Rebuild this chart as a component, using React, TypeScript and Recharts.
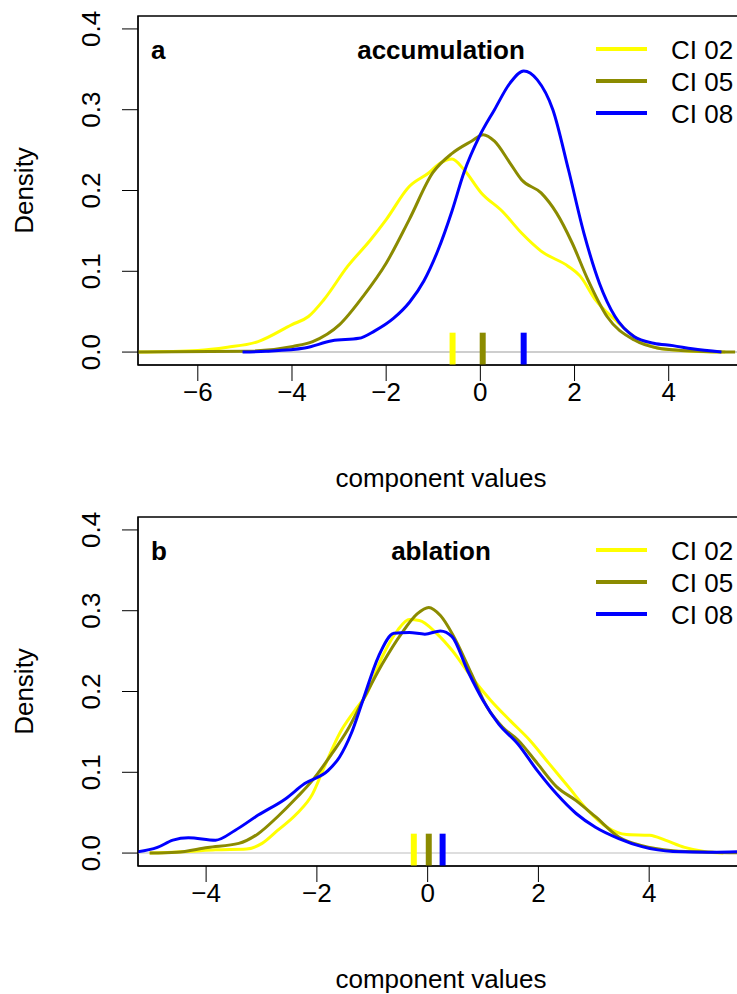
import React from 'react';
import { LineChart, Line, XAxis, YAxis, ReferenceLine, ReferenceArea } from 'recharts';

const FONT = '"Liberation Sans", Arial, Helvetica, sans-serif';
const FS = 26;

const seriesNames = ['CI 02', 'CI 05', 'CI 08'];
const seriesColors = ['#ffff00', '#8b8b00', '#0000ff'];

const xTicksA = [-6, -4, -2, 0, 2, 4];
const xTicksB = [-4, -2, 0, 2, 4];
const yTicks = [0, 0.1, 0.2, 0.3, 0.4];

// accumulation: [component value, density]
const accCI02: [number, number][] = [
  [-7.3, 0], [-6, 0.002], [-5.37, 0.006], [-4.72, 0.013], [-4, 0.034], [-3.65, 0.044],
  [-3.32, 0.065], [-2.82, 0.106], [-2.33, 0.139], [-2, 0.164], [-1.51, 0.205], [-1.09, 0.222],
  [-0.85, 0.234], [-0.6, 0.239], [-0.35, 0.226], [0.02, 0.197], [0.47, 0.174], [0.88, 0.147],
  [1.29, 0.125], [1.87, 0.106], [2.12, 0.094], [2.44, 0.065], [2.86, 0.04], [3.27, 0.019],
  [3.76, 0.005], [4.5, 0.001], [5.2, 0],
];
const accCI05: [number, number][] = [
  [-7.3, 0], [-4.96, 0.001], [-3.98, 0.007], [-3.56, 0.013], [-2.99, 0.034], [-2.49, 0.069],
  [-2, 0.11], [-1.51, 0.164], [-1.01, 0.222], [-0.6, 0.246], [-0.19, 0.261], [0.06, 0.269],
  [0.3, 0.261], [0.63, 0.234], [0.88, 0.213], [1.29, 0.197], [1.62, 0.172], [1.95, 0.135],
  [2.28, 0.09], [2.69, 0.044], [3.27, 0.015], [3.76, 0.005], [4.26, 0.002], [5.41, 0],
];
const accCI08: [number, number][] = [
  [-5.05, 0], [-4.55, 0.001], [-3.73, 0.005], [-3.15, 0.014], [-2.58, 0.017], [-2.25, 0.026],
  [-1.84, 0.042], [-1.5, 0.062], [-1.2, 0.088], [-0.9, 0.126], [-0.6, 0.175], [-0.35, 0.222],
  [-0.02, 0.267], [0.3, 0.3], [0.63, 0.333], [0.92, 0.348], [1.21, 0.337], [1.54, 0.3],
  [1.87, 0.226], [2.2, 0.147], [2.53, 0.085], [2.86, 0.044], [3.27, 0.019], [3.68, 0.011],
  [4.09, 0.008], [4.5, 0.004], [5.12, 0],
];

// ablation: [component value, density]
const ablCI02: [number, number][] = [
  [-5.02, 0], [-4.32, 0.002], [-3.83, 0.004], [-3.27, 0.005], [-2.99, 0.012], [-2.71, 0.028],
  [-2.36, 0.049], [-2.08, 0.073], [-1.87, 0.106], [-1.59, 0.148], [-1.31, 0.177], [-1.1, 0.197],
  [-0.82, 0.243], [-0.54, 0.276], [-0.33, 0.289], [-0.15, 0.288], [0.16, 0.272], [0.44, 0.251],
  [0.79, 0.218], [1.14, 0.189], [1.49, 0.164], [1.84, 0.14], [2.19, 0.111], [2.54, 0.082],
  [2.89, 0.053], [3.24, 0.032], [3.59, 0.023], [4.01, 0.022], [4.29, 0.016], [4.64, 0.007],
  [4.99, 0.002], [5.34, 0],
];
const ablCI05: [number, number][] = [
  [-5.02, 0], [-4.53, 0.001], [-3.97, 0.007], [-3.41, 0.012], [-3.06, 0.024], [-2.71, 0.045],
  [-2.36, 0.069], [-2.08, 0.09], [-1.73, 0.123], [-1.45, 0.152], [-1.17, 0.189], [-0.82, 0.234],
  [-0.47, 0.272], [-0.19, 0.296], [0.02, 0.304], [0.23, 0.294], [0.51, 0.263], [0.79, 0.222],
  [1.07, 0.181], [1.35, 0.156], [1.63, 0.14], [1.98, 0.111], [2.33, 0.082], [2.68, 0.065],
  [3.03, 0.045], [3.45, 0.02], [3.87, 0.009], [4.43, 0.003], [5.13, 0.001], [5.8, 0],
];
const ablCI08: [number, number][] = [
  [-5.3, 0.001], [-4.88, 0.007], [-4.6, 0.016], [-4.32, 0.019], [-3.83, 0.016], [-3.48, 0.028],
  [-3.06, 0.047], [-2.57, 0.067], [-2.22, 0.086], [-1.8, 0.102], [-1.59, 0.119], [-1.38, 0.148],
  [-1.17, 0.189], [-0.89, 0.243], [-0.61, 0.272], [-0.33, 0.273], [-0.05, 0.271], [0.23, 0.275],
  [0.44, 0.268], [0.72, 0.226], [1, 0.189], [1.28, 0.16], [1.63, 0.135], [1.98, 0.102],
  [2.33, 0.073], [2.68, 0.049], [3.03, 0.032], [3.45, 0.018], [3.87, 0.008], [4.43, 0.002],
  [5.13, 0.001], [5.8, 0.002],
];

const accMeans = [-0.59, 0.05, 0.92];
const ablMeans = [-0.25, 0.02, 0.27];

const toPoints = (s: [number, number][]) => s.map(([x, y]) => ({ x, y }));

const fmtX = (v: number) => (v < 0 ? '\u2212' + Math.abs(v) : String(v));

const YTick = (props: any) => {
  const { x, y, payload } = props;
  const bx = x - 20;
  return (
    <text x={bx} y={y} transform={`rotate(-90 ${bx} ${y})`} textAnchor="middle"
      fontFamily={FONT} fontSize={FS} fill="#000">
      {payload.value.toFixed(1)}
    </text>
  );
};

const XTick = (props: any) => {
  const { x, y, payload } = props;
  return (
    <text x={x} y={y + 18} textAnchor="middle" fontFamily={FONT} fontSize={FS} fill="#000">
      {fmtX(payload.value)}
    </text>
  );
};

const Y_DOMAIN: [number, number] = [-0.016, 0.416];

interface PanelProps {
  top: number;
  letter: string;
  title: string;
  series: [number, number][][];
  means: number[];
  xDomain: [number, number];
  xTicks: number[];
  zeroColor: string;
}

function Panel({ top, letter, title, series, means, xDomain, xTicks, zeroColor }: PanelProps) {
  return (
    <div style={{ position: 'absolute', left: 0, top, width: 760, height: 497 }}>
      <LineChart width={760} height={497} margin={{ top: 16, right: 15, left: 78, bottom: 92 }}>
        <XAxis type="number" dataKey="x" domain={xDomain} allowDataOverflow
          ticks={xTicks} tickSize={16} height={40} tick={<XTick />}
          axisLine={{ stroke: '#000', strokeWidth: 1 }} tickLine={{ stroke: '#000' }} />
        <YAxis type="number" domain={Y_DOMAIN} allowDataOverflow ticks={yTicks}
          tickSize={16} width={60} tick={<YTick />}
          axisLine={{ stroke: '#000', strokeWidth: 1 }} tickLine={{ stroke: '#000' }} />
        <ReferenceArea x1={xDomain[0]} x2={xDomain[1]} y1={Y_DOMAIN[0]} y2={Y_DOMAIN[1]}
          fill="none" fillOpacity={0} stroke="#000" strokeOpacity={1} strokeWidth={1.5}
          ifOverflow="visible" />
        <ReferenceLine y={0} stroke={zeroColor} strokeWidth={1.5} />
        {series.map((s, i) => (
          <Line key={seriesNames[i]} data={toPoints(s)} dataKey="y" name={seriesNames[i]}
            type="monotone" stroke={seriesColors[i]} strokeWidth={3} dot={false}
            isAnimationActive={false} />
        ))}
        {means.map((m, i) => (
          <ReferenceLine key={'m' + i} segment={[{ x: m, y: Y_DOMAIN[0] }, { x: m, y: 0.024 }]}
            stroke={seriesColors[i]} strokeWidth={6} />
        ))}
      </LineChart>
      <svg width={760} height={497} style={{ position: 'absolute', left: 0, top: 0, pointerEvents: 'none' }}>
        <text x={33} y={190.5} transform="rotate(-90 33 190.5)" textAnchor="middle"
          fontFamily={FONT} fontSize={FS}>Density</text>
        <text x={441} y={487} textAnchor="middle" fontFamily={FONT} fontSize={FS}>component values</text>
        <text x={151} y={59} fontFamily={FONT} fontSize={FS} fontWeight="bold">{letter}</text>
        <text x={441} y={59} textAnchor="middle" fontFamily={FONT} fontSize={FS} fontWeight="bold">{title}</text>
        {seriesNames.map((n, i) => (
          <g key={n}>
            <line x1={596} x2={647} y1={49 + i * 32} y2={49 + i * 32} stroke={seriesColors[i]} strokeWidth={4} />
            <text x={671} y={59 + i * 32} fontFamily={FONT} fontSize={FS}>{n}</text>
          </g>
        ))}
      </svg>
    </div>
  );
}

export default function App() {
  return (
    <div style={{ position: 'absolute', left: 0, top: 0, width: 737, height: 994, overflow: 'hidden', background: '#fff' }}>
      <Panel top={0} letter="a" title="accumulation" series={[accCI02, accCI05, accCI08]}
        means={accMeans} xDomain={[-7.27, 5.62]} xTicks={xTicksA} zeroColor="#bebebe" />
      <Panel top={501} letter="b" title="ablation" series={[ablCI02, ablCI05, ablCI08]}
        means={ablMeans} xDomain={[-5.23, 5.73]} xTicks={xTicksB} zeroColor="#d3d3d3" />
    </div>
  );
}
